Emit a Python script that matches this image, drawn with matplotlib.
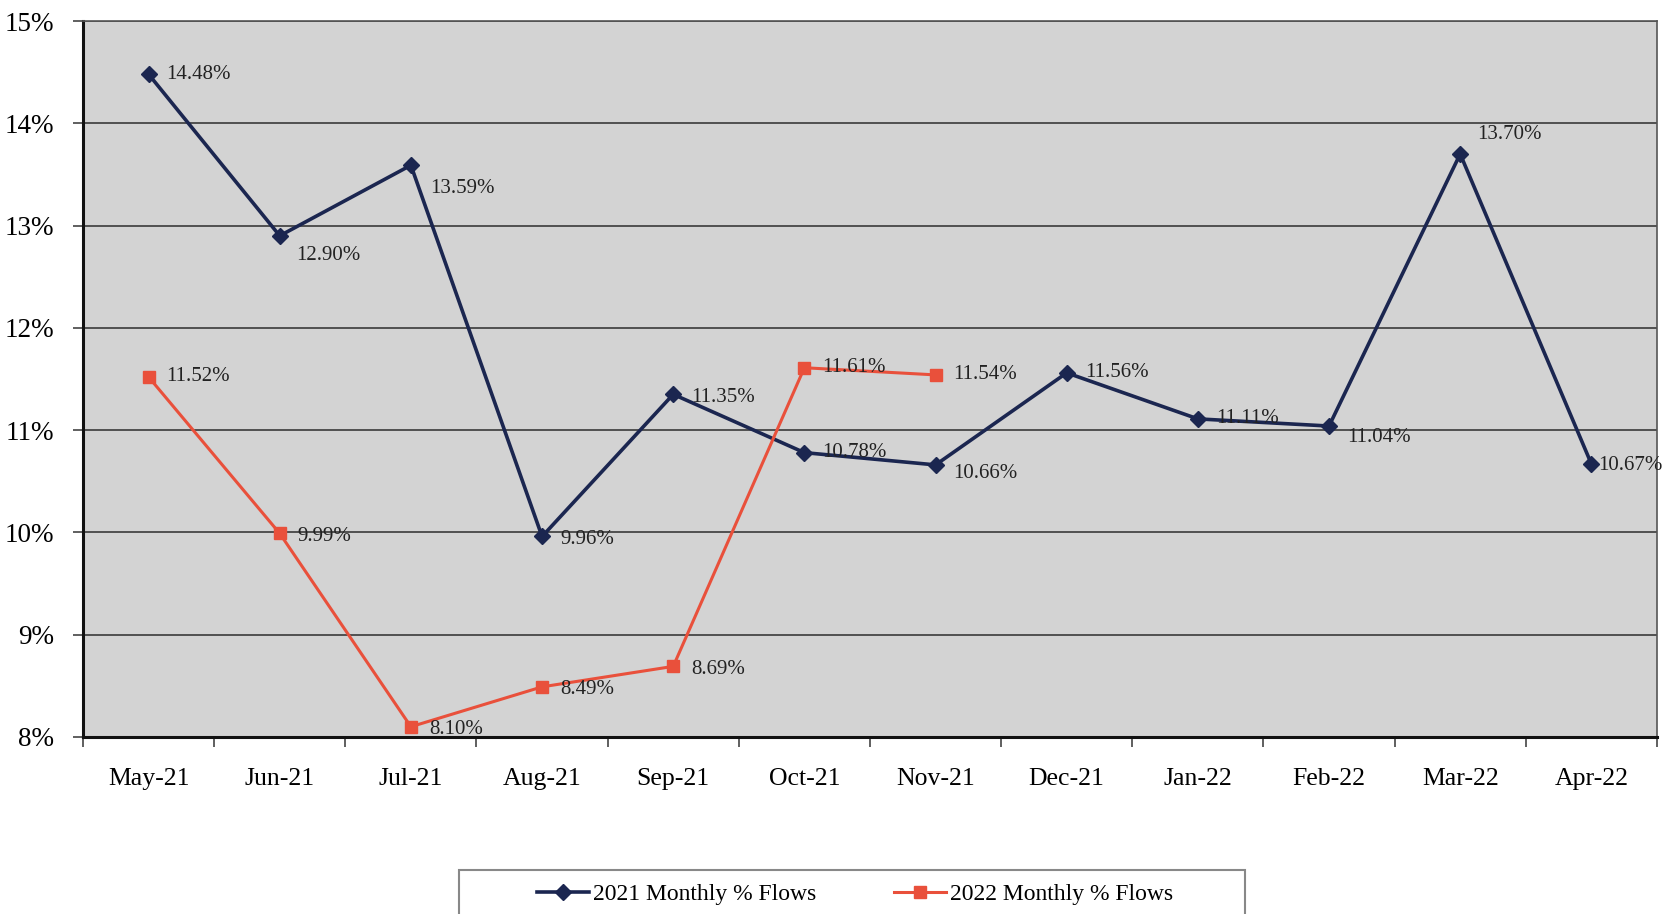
import matplotlib.pyplot as plt
from matplotlib.lines import Line2D
from matplotlib.patches import Rectangle
from matplotlib.ticker import FixedLocator, PercentFormatter

months = ["May-21", "Jun-21", "Jul-21", "Aug-21", "Sep-21", "Oct-21",
          "Nov-21", "Dec-21", "Jan-22", "Feb-22", "Mar-22", "Apr-22"]
flows_2021 = [14.48, 12.90, 13.59, 9.96, 11.35, 10.78,
              10.66, 11.56, 11.11, 11.04, 13.70, 10.67]
flows_2022 = [11.52, 9.99, 8.10, 8.49, 8.69, 11.61, 11.54]

NAVY = "#1b2650"
RED = "#e9503b"
BG = "#d3d3d3"

# label offsets in points (dx, dy) so the value text sits beside each marker
offsets_2021 = [(13, 0), (12, -14), (14, -17), (13, -2), (13, -2), (13, 0),
                (13, -6), (13, 0), (13, 0), (13, -8), (12, 14), (5, -1)]
offsets_2022 = [(13, 0), (13, -2), (13, -2), (13, -2), (13, -2), (13, 0), (13, 0)]

plt.rcParams["font.family"] = ["Liberation Serif", "DejaVu Serif"]

fig = plt.figure(figsize=(16.73, 9.14), dpi=100)
ax = fig.add_axes([0.0496, 0.1937, 0.9408, 0.7833])
ax.set_facecolor(BG)

x21 = range(len(flows_2021))
x22 = range(len(flows_2022))
ax.plot(x21, flows_2021, color=NAVY, lw=2.6, marker="D", ms=8, zorder=4)
ax.plot(x22, flows_2022, color=RED, lw=2.2, marker="s", ms=9, zorder=4)

for xi, v, (dx, dy) in zip(x21, flows_2021, offsets_2021):
    ax.annotate(f"{v:.2f}%", (xi, v), xytext=(dx, dy), textcoords="offset points",
                ha="left", va="center", fontsize=15, color="#222222", zorder=5)
for xi, v, (dx, dy) in zip(x22, flows_2022, offsets_2022):
    ax.annotate(f"{v:.2f}%", (xi, v), xytext=(dx, dy), textcoords="offset points",
                ha="left", va="center", fontsize=15, color="#222222", zorder=5)

ax.set_xlim(-0.5, len(months) - 0.5)
ax.set_ylim(8, 15)
ax.set_yticks(range(8, 16))
ax.yaxis.set_major_formatter(PercentFormatter(decimals=0))
ax.grid(axis="y", color="#3a3a3a", lw=1.2, zorder=1)

ax.set_xticks(range(len(months)))
ax.set_xticklabels(months)
ax.xaxis.set_minor_locator(FixedLocator([i - 0.5 for i in range(len(months) + 1)]))
ax.tick_params(axis="x", which="major", length=0, pad=22, labelsize=18.5)
ax.tick_params(axis="x", which="minor", length=7, width=1.2, color="#444444")
ax.tick_params(axis="y", length=7, width=1.2, pad=14, labelsize=19.5, color="#444444")

for side in ("left", "bottom"):
    ax.spines[side].set_linewidth(2.2)
    ax.spines[side].set_color("#111111")
for side in ("top", "right"):
    ax.spines[side].set_linewidth(1.2)
    ax.spines[side].set_color("#555555")

# legend frame runs off the bottom of the figure
W, H = 1673, 914
fig.patches.append(Rectangle((459 / W, -0.02), (1245 - 459) / W, 0.02 + (914 - 870) / H,
                             transform=fig.transFigure, facecolor="white",
                             edgecolor="#888888", lw=1.5))

handles = [
    Line2D([], [], color=NAVY, lw=2.6, marker="D", ms=8),
    Line2D([], [], color=RED, lw=2.2, marker="s", ms=9),
]
fig.legend(handles, ["2021 Monthly % Flows", "2022 Monthly % Flows"],
           loc="center", bbox_to_anchor=(855 / W, 1 - 894 / H),
           ncol=2, fontsize=17, frameon=False,
           handlelength=2.2, handletextpad=0.15, columnspacing=3.3,
           borderpad=0, borderaxespad=0)

fig.savefig("out.png", dpi=100)
